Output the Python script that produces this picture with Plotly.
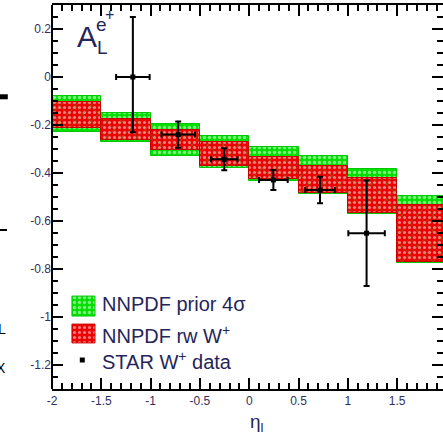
import plotly.graph_objects as go

# Bin edges in lepton pseudorapidity and the two NNPDF uncertainty bands
bin_lo = [-2.0, -1.5, -1.0, -0.5, 0.0, 0.5, 1.0, 1.5]
bin_width = 0.5
prior_lo = [-0.229, -0.270, -0.328, -0.379, -0.433, -0.487, -0.571, -0.775]
prior_hi = [-0.079, -0.150, -0.197, -0.246, -0.292, -0.329, -0.383, -0.496]
rw_lo = [-0.2125, -0.2625, -0.304, -0.371, -0.425, -0.482, -0.565, -0.770]
rw_hi = [-0.104, -0.175, -0.219, -0.271, -0.333, -0.371, -0.421, -0.533]

# STAR W+ data points
star_eta = [-1.18, -0.72, -0.253, 0.245, 0.718, 1.19]
star_al = [0.0, -0.24, -0.343, -0.429, -0.471, -0.651]
star_err_up = [0.25, 0.055, 0.046, 0.042, 0.055, 0.22]
star_err_dn = [0.23, 0.055, 0.046, 0.042, 0.055, 0.22]
star_eta_err = [0.17, 0.17, 0.135, 0.145, 0.15, 0.185]

x_ticks = [-2, -1.5, -1, -0.5, 0, 0.5, 1, 1.5]
x_tick_text = ["-2", "-1.5", "-1", "-0.5", "0", "0.5", "1", "1.5"]
y_ticks = [-1.2, -1.0, -0.8, -0.6, -0.4, -0.2, 0.0, 0.2]
y_tick_text = ["-1.2", "-1", "-0.8", "-0.6", "-0.4", "-0.2", "0", "0.2"]

legend_labels = ["NNPDF prior 4σ", "NNPDF rw W<sup>+</sup>", "STAR W<sup>+</sup> data"]

GREEN = "#00e000"
RED = "#ee0000"
TXT = "#25255a"
FONT = "Liberation Sans, Arial, sans-serif"

centers = [b + bin_width / 2 for b in bin_lo]

fig = go.Figure()

fig.add_trace(go.Bar(
    x=centers, y=[h - l for l, h in zip(prior_lo, prior_hi)], base=prior_lo,
    width=bin_width,
    marker=dict(color=GREEN, line=dict(color="#00c800", width=1),
                pattern=dict(shape=".", bgcolor=GREEN, fgcolor="white",
                             size=5, solidity=0.35)),
    showlegend=False, hoverinfo="skip",
))
fig.add_trace(go.Bar(
    x=centers, y=[h - l for l, h in zip(rw_lo, rw_hi)], base=rw_lo,
    width=bin_width,
    marker=dict(color=RED, line=dict(color="#c80000", width=1),
                pattern=dict(shape=".", bgcolor=RED, fgcolor="white",
                             size=5, solidity=0.3)),
    showlegend=False, hoverinfo="skip",
))
fig.add_trace(go.Bar(
    x=centers, y=[h - l for l, h in zip(rw_lo, rw_hi)], base=rw_lo,
    width=bin_width,
    marker=dict(color="rgba(0,0,0,0)", line=dict(width=0),
                pattern=dict(shape="x", bgcolor="rgba(0,0,0,0)", fgcolor="#33cc33",
                             size=11, solidity=0.12)),
    showlegend=False, hoverinfo="skip",
))

fig.add_trace(go.Scatter(
    x=star_eta, y=star_al, mode="markers",
    marker=dict(symbol="square", size=5, color="black"),
    error_y=dict(type="data", symmetric=False, array=star_err_up,
                 arrayminus=star_err_dn, color="black", thickness=2, width=3),
    error_x=dict(type="data", array=star_eta_err, color="black",
                 thickness=2, width=3),
    showlegend=False, hoverinfo="skip",
))

# Legend drawn on an overlay axis spanning the plot area
sw_x = [0.051, 0.110, 0.110, 0.051, 0.051]
fig.add_trace(go.Scatter(
    x=sw_x, y=[0.190, 0.190, 0.242, 0.242, 0.190], xaxis="x2", yaxis="y2",
    mode="lines", fill="toself", line=dict(color="#00c800", width=1),
    fillcolor=GREEN,
    fillpattern=dict(shape=".", bgcolor=GREEN, fgcolor="white", size=5, solidity=0.35),
    showlegend=False, hoverinfo="skip",
))
fig.add_trace(go.Scatter(
    x=sw_x, y=[0.120, 0.120, 0.169, 0.169, 0.120], xaxis="x2", yaxis="y2",
    mode="lines", fill="toself", line=dict(color="#c80000", width=1),
    fillcolor=RED,
    fillpattern=dict(shape=".", bgcolor=RED, fgcolor="white", size=5, solidity=0.3),
    showlegend=False, hoverinfo="skip",
))
fig.add_trace(go.Scatter(
    x=[0.0775], y=[0.0755], xaxis="x2", yaxis="y2", mode="markers",
    marker=dict(symbol="square", size=5, color="black"),
    showlegend=False, hoverinfo="skip",
))

annotations = []
for lab, yy in zip(legend_labels, [0.221, 0.141, 0.0755]):
    annotations.append(dict(
        x=0.1228, y=yy, xref="paper", yref="paper", text=lab, showarrow=False,
        xanchor="left", yanchor="middle", font=dict(family=FONT, size=20, color=TXT),
    ))

# Asymmetry label A_L^{e+}
annotations += [
    dict(x=0.058, y=0.919, xref="paper", yref="paper", text="A", showarrow=False,
         xanchor="left", yanchor="middle", font=dict(family=FONT, size=30, color=TXT)),
    dict(x=0.110, y=0.889, xref="paper", yref="paper", text="L", showarrow=False,
         xanchor="left", yanchor="middle", font=dict(family=FONT, size=19, color=TXT)),
    dict(x=0.108, y=0.948, xref="paper", yref="paper", text="e", showarrow=False,
         xanchor="left", yanchor="middle", font=dict(family=FONT, size=19, color=TXT)),
    dict(x=0.131, y=0.976, xref="paper", yref="paper", text="+", showarrow=False,
         xanchor="left", yanchor="middle", font=dict(family=FONT, size=16, color=TXT)),
    # axis title
    dict(x=0.525, y=-0.088, xref="paper", yref="paper", text="η<sub>l</sub>", showarrow=False,
         xanchor="center", yanchor="middle", font=dict(family=FONT, size=19, color=TXT)),
    # last x tick label, at the right edge
    dict(x=1.0077, y=-0.025, xref="paper", yref="paper", text="2", showarrow=False,
         xanchor="center", yanchor="middle", font=dict(family=FONT, size=12, color=TXT)),
    # pieces of the neighbouring panel's lettering at the left edge
    dict(x=-0.112, y=0.155, xref="paper", yref="paper", text="L", showarrow=False,
         xanchor="right", yanchor="middle", font=dict(family=FONT, size=14, color="black")),
    dict(x=-0.112, y=0.055, xref="paper", yref="paper", text="X", showarrow=False,
         xanchor="right", yanchor="middle", font=dict(family=FONT, size=14, color="black")),
]

shapes = [
    # left frame line
    dict(type="line", xref="paper", yref="paper", x0=0, x1=0, y0=0, y1=1,
         line=dict(color="black", width=2)),
    dict(type="line", xref="paper", yref="paper", x0=-0.133, x1=-0.113, y0=0.761, y1=0.761,
         line=dict(color="black", width=5)),
    dict(type="line", xref="paper", yref="paper", x0=-0.133, x1=-0.115, y0=0.414, y1=0.414,
         line=dict(color="black", width=2)),
]

axis_common = dict(
    ticks="inside", ticklen=11, tickwidth=2, tickcolor="black",
    showgrid=False, zeroline=False, mirror="ticks",
    tickfont=dict(family=FONT, size=12, color="#303060"),
)

fig.update_layout(
    width=443, height=435,
    margin=dict(l=52, r=0, t=5, b=46),
    paper_bgcolor="white", plot_bgcolor="white",
    barmode="overlay", bargap=0,
    showlegend=False,
    xaxis=dict(range=[-2, 1.965], tickvals=x_ticks, ticktext=x_tick_text,
               showline=True, linewidth=2, linecolor="black",
               minor=dict(dtick=0.1, tick0=-2, ticks="inside", ticklen=6,
                          tickwidth=2, tickcolor="black"),
               **axis_common),
    yaxis=dict(range=[-1.3, 0.3], tickvals=y_ticks, ticktext=y_tick_text,
               showline=False,
               minor=dict(dtick=0.05, tick0=0, ticks="inside", ticklen=6,
                          tickwidth=2, tickcolor="black"),
               **axis_common),
    xaxis2=dict(range=[0, 1], overlaying="x", visible=False, fixedrange=True),
    yaxis2=dict(range=[0, 1], overlaying="y", visible=False, fixedrange=True),
    annotations=annotations,
    shapes=shapes,
)

fig.write_html("out.html")
